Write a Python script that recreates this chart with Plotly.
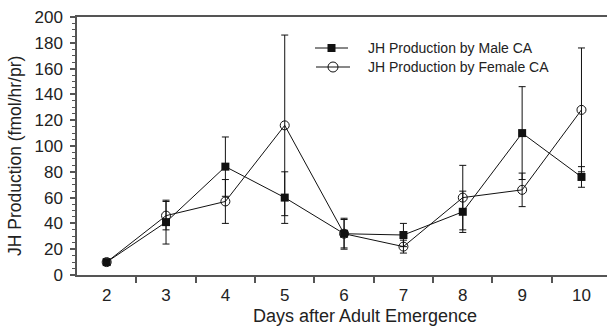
import plotly.graph_objects as go

days = [2, 3, 4, 5, 6, 7, 8, 9, 10]
male = [10, 41, 84, 60, 32, 31, 49, 110, 76]
male_err = [2, 17, 23, 20, 11, 9, 16, 36, 8]
female = [10, 46, 57, 116, 32, 22, 60, 66, 128]
female_err = [2, 11, 17, 70, 12, 5, 25, 13, 48]
legend_names = ["JH Production by Male CA", "JH Production by Female CA"]

FONT = "Liberation Sans, Arial, sans-serif"
AX = "#555555"
INK = "#111111"

# plot-area geometry in pixels (for placing legend / titles)
L, R, T, B = 77, 607, 17, 275


def px(xp):
    return (xp - L) / (R - L)


def py(yp):
    return (B - yp) / (B - T)


fig = go.Figure()
fig.add_trace(go.Scatter(
    x=days, y=male, mode="lines+markers", name=legend_names[0], showlegend=False,
    line=dict(color=INK, width=1),
    marker=dict(symbol="square", size=8, color=INK),
    error_y=dict(type="data", array=male_err, visible=True, color=INK, thickness=1, width=3.5),
))
fig.add_trace(go.Scatter(
    x=days, y=female, mode="lines+markers", name=legend_names[1], showlegend=False,
    line=dict(color=INK, width=1),
    marker=dict(symbol="circle-open", size=9, color=INK, line=dict(width=1)),
    error_y=dict(type="data", array=female_err, visible=True, color=INK, thickness=1, width=3.5),
))

# Manual legend on an overlay axis expressed in pixel units of the plot area
leg_rows = [48, 67]
leg_sym = [dict(symbol="square", size=8, color=INK),
           dict(symbol="circle-open", size=10, color=INK, line=dict(width=1))]
leg_x = [[315, 348], [316, 350]]
for i in range(2):
    fig.add_trace(go.Scatter(
        x=leg_x[i], y=[leg_rows[i]] * 2, mode="lines", xaxis="x2", yaxis="y2",
        line=dict(color=INK, width=1), showlegend=False, hoverinfo="skip"))
    fig.add_trace(go.Scatter(
        x=[sum(leg_x[i]) / 2], y=[leg_rows[i]], mode="markers", xaxis="x2", yaxis="y2",
        marker=leg_sym[i], showlegend=False, hoverinfo="skip"))
    fig.add_annotation(x=px(366), y=py(leg_rows[i]), xref="paper", yref="paper",
                       text=legend_names[i],
                       showarrow=False, xanchor="left", yanchor="middle",
                       font=dict(size=14, family=FONT, color="#222222"))

fig.add_annotation(x=px(365), y=py(316), xref="paper", yref="paper",
                   text="Days after Adult Emergence",
                   showarrow=False, xanchor="center", yanchor="middle",
                   font=dict(size=18, family=FONT, color="#222222"))
fig.add_annotation(x=px(15), y=py(156), xref="paper", yref="paper",
                   text="JH Production (fmol/hr/pr)",
                   showarrow=False, xanchor="center", yanchor="middle", textangle=-90,
                   font=dict(size=17.5, family=FONT, color="#222222"))

fig.update_layout(
    width=608, height=326,
    margin=dict(l=L, r=608 - R, t=T, b=326 - B),
    paper_bgcolor="white", plot_bgcolor="white",
    font=dict(family=FONT, color="#222222", size=17),
    showlegend=False,
    xaxis=dict(
        range=[1.5, 10.43], tickvals=days, ticktext=[str(d) for d in days],
        ticks="", showgrid=False, zeroline=False,
        showline=True, linecolor=AX, linewidth=1.5, mirror=True,
        minor=dict(tickvals=[2.5, 3.5, 4.5, 5.5, 6.5, 7.5, 8.5, 9.5], ticks="outside",
                   ticklen=6, tickcolor=AX, tickwidth=1.5, showgrid=False),
        tickfont=dict(size=17), ticklabelstandoff=4,
    ),
    yaxis=dict(
        range=[0, 200], tick0=0, dtick=20, ticks="outside", ticklen=5,
        tickcolor=AX, tickwidth=1.5, showgrid=False, zeroline=False,
        showline=True, linecolor=AX, linewidth=1.5,
        minor=dict(dtick=5, ticks="outside", ticklen=3, tickcolor=AX, tickwidth=1, showgrid=False),
        tickfont=dict(size=17), ticklabelstandoff=4,
    ),
    xaxis2=dict(overlaying="x", range=[L, R], visible=False, fixedrange=True),
    yaxis2=dict(overlaying="y", range=[B, T], visible=False, fixedrange=True),
)

fig.write_html("out.html")
